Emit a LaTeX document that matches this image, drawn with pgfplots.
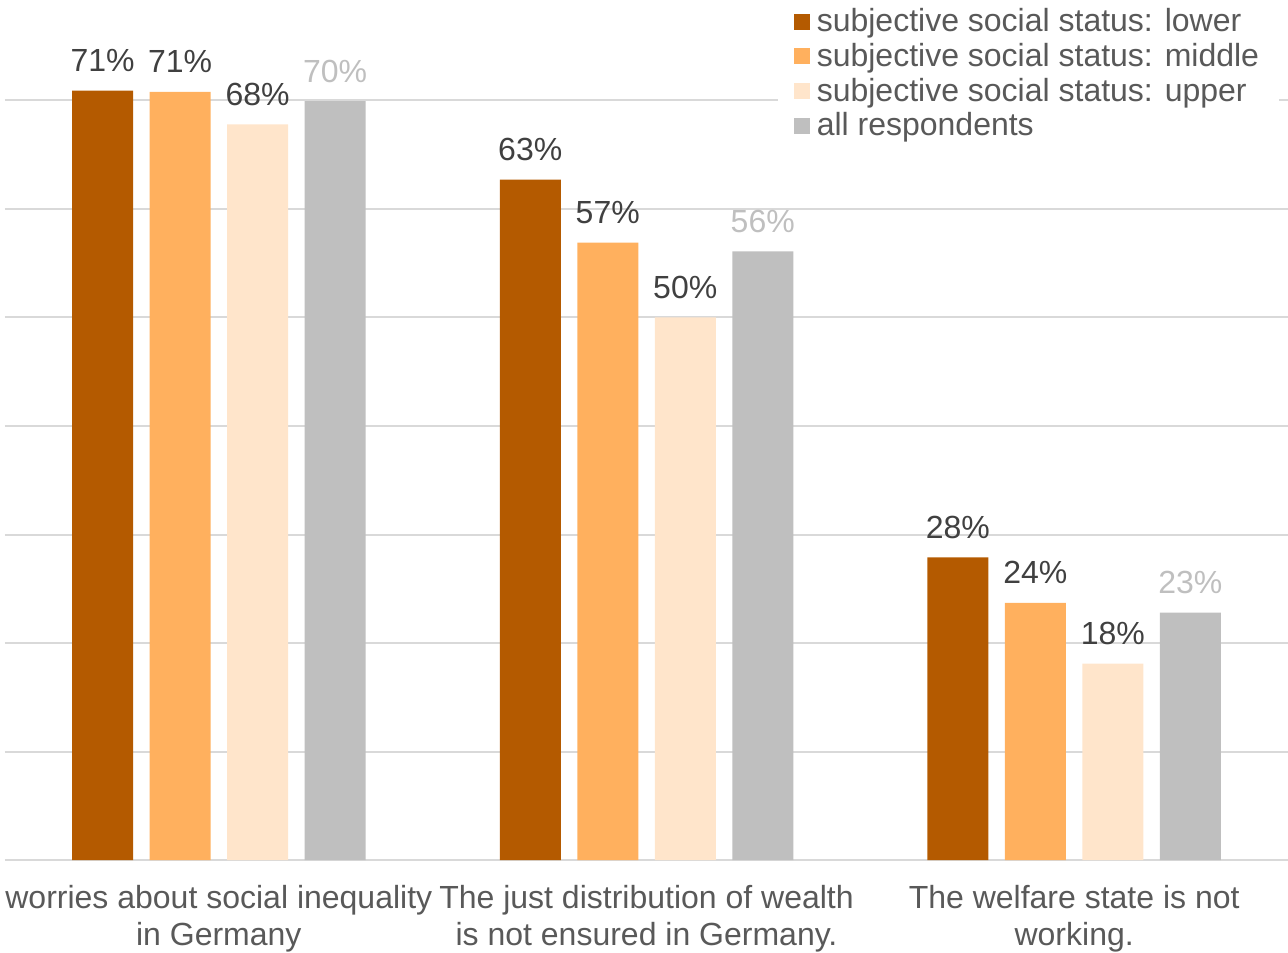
\documentclass[border=0pt]{standalone}
\usepackage{pgfplots}
\pgfplotsset{compat=1.18}
\usepackage{fontspec}
\setmainfont{Liberation Sans}
\definecolor{cLow}{HTML}{B45A00}
\definecolor{cMid}{HTML}{FFB05E}
\definecolor{cUp}{HTML}{FFE5CB}
\definecolor{cAll}{HTML}{BFBFBF}
\definecolor{gridc}{HTML}{D9D9D9}
\definecolor{valc}{HTML}{404040}
\definecolor{labc}{HTML}{595959}
\begin{document}
\begin{tikzpicture}
\begin{axis}[
  scale only axis,
  width=641.5pt, height=430pt,
  xmin=-0.5, xmax=2.5, ymin=0, ymax=79.26,
  ybar=8.25pt, bar width=30.5pt,
  axis line style={draw=none},
  ytick={0,10,...,70},
  yticklabel={\relax},
  yticklabel style={inner sep=0pt},
  ymajorgrids,
  major grid style={draw=gridc, line width=1pt},
  xtick={0,1,2},
  xticklabels={{worries about social inequality\\in Germany},{The just distribution of wealth\\is not ensured in Germany.},{The welfare state is not\\working.}},
  xticklabel style={font=\fontsize{16}{18.5}\selectfont, text=labc, align=center, inner sep=0pt, yshift=-8.2pt},
  tick style={draw=none},
  /pgf/number format/assume math mode=true,
  nodes near coords={\pgfmathprintnumber[fixed,precision=0]{\pgfplotspointmeta}\%},
  nodes near coords style={font=\fontsize{16}{18}\selectfont, text=valc, anchor=base, inner sep=0pt, yshift=9.5pt},
  legend image code/.code={\fill[#1] (0pt,-4pt) rectangle (8pt,4pt); \path (9.5pt,0pt);},
  legend style={font=\fontsize{16}{18}\selectfont, text=labc, draw=none, fill=white,
    inner xsep=8pt, inner ysep=0pt, row sep=0.25pt,
    at={(0.602,0.995)}, anchor=north west, legend cell align=left},
]
\addplot[fill=cLow, draw=none] coordinates {(0,70.9) (1,62.7) (2,27.9)};
\addplot[fill=cMid, draw=none] coordinates {(0,70.8) (1,56.9) (2,23.7)};
\addplot[fill=cUp, draw=none] coordinates {(0,67.8) (1,50.0) (2,18.1)};
\addplot[fill=cAll, draw=none, nodes near coords style={text=cAll}] coordinates {(0,69.95) (1,56.1) (2,22.8)};
\legend{subjective social status: lower, subjective social status: middle, subjective social status: upper, all respondents}
\end{axis}
\pgfresetboundingbox
\path[use as bounding box] ([xshift=-2.5pt]current axis.north west) rectangle ([yshift=-46pt]current axis.south east);
\end{tikzpicture}
\end{document}
